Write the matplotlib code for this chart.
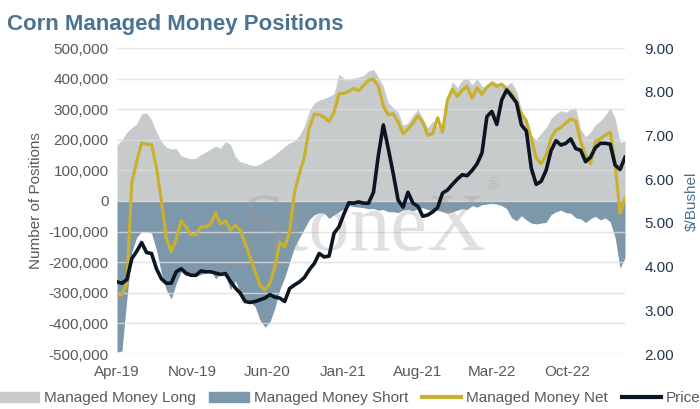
import pandas as pd
import numpy as np
import matplotlib
matplotlib.use("Agg")
import matplotlib.pyplot as plt
from matplotlib.ticker import FuncFormatter
from matplotlib.patches import Patch
from matplotlib.lines import Line2D

# DATA (bi-weekly COT readings, thousands of contracts; price in $/bu)
dates = pd.date_range("2019-04-01", periods=104, freq="14D")

mm_long = [183, 200, 225, 240, 252, 285, 288, 265, 225, 195,
           176, 170, 172, 148, 142, 138, 140, 152, 160, 170,
           180, 172, 195, 185, 145, 128, 124, 118, 115, 120,
           132, 140, 152, 165, 178, 190, 197, 215, 245, 295,
           320, 330, 335, 342, 350, 415, 400, 395, 402, 405,
           410, 425, 430, 405, 375, 320, 305, 290, 248, 255,
           280, 300, 270, 240, 260, 245, 250, 340, 390, 370,
           395, 402, 380, 400, 375, 370, 395, 385, 382, 378,
           388, 360, 300, 258, 215, 200, 222, 240, 270, 285,
           295, 290, 300, 305, 235, 210, 225, 250, 262, 280,
           305, 270, 192, 195]

mm_short = [-494, -490, -320, -167, -118, -100, -100, -105, -160, -235,
            -290, -320, -270, -230, -245, -240, -245, -240, -235, -225,
            -255, -235, -245, -290, -260, -300, -320, -330, -345, -390,
            -412, -395, -350, -290, -250, -200, -150, -120, -90, -60,
            -45, -38, -40, -57, -45, -35, -25, -15, -18, -20,
            -22, -25, -25, -30, -28, -35, -35, -38, -30, -28,
            -32, -25, -22, -28, -32, -30, -35, -40, -35, -30,
            -25, -28, -15, -20, -12, -10, -8, -10, -15, -25,
            -55, -65, -48, -62, -72, -75, -72, -70, -45, -35,
            -30, -38, -40, -55, -58, -70, -58, -50, -62, -55,
            -68, -120, -220, -185]

mm_net = [-309, -305, -270, 60, 130, 190, 185, 185, 110, 0,
          -120, -165, -125, -65, -85, -110, -110, -85, -85, -75,
          -40, -75, -65, -95, -80, -95, -140, -185, -230, -275,
          -290, -270, -215, -135, -150, -100, 30, 90, 145, 240,
          284, 282, 274, 260, 290, 350, 352, 358, 368, 360,
          378, 395, 398, 375, 310, 282, 285, 258, 220, 235,
          255, 278, 258, 215, 220, 272, 225, 330, 365, 342,
          362, 375, 336, 370, 348, 372, 385, 375, 382, 366,
          352, 320, 285, 262, 205, 140, 122, 150, 205, 232,
          240, 255, 268, 262, 195, 150, 122, 195, 203, 215,
          225, 120, -40, 10]

price = [3.65, 3.62, 3.70, 4.18, 4.35, 4.55, 4.32, 4.30, 3.95, 3.72,
         3.62, 3.62, 3.88, 3.95, 3.85, 3.80, 3.80, 3.90, 3.88, 3.88,
         3.85, 3.82, 3.84, 3.66, 3.51, 3.39, 3.20, 3.18, 3.20, 3.24,
         3.28, 3.36, 3.30, 3.28, 3.20, 3.50, 3.58, 3.65, 3.75, 3.93,
         4.07, 4.30, 4.22, 4.24, 4.76, 4.91, 5.20, 5.46, 5.45, 5.48,
         5.45, 5.45, 5.70, 6.55, 7.24, 6.70, 6.13, 5.52, 5.36, 5.70,
         5.45, 5.38, 5.15, 5.18, 5.25, 5.35, 5.68, 5.75, 5.88, 6.00,
         6.10, 6.08, 6.20, 6.35, 6.60, 7.43, 7.55, 7.25, 7.81, 8.04,
         7.90, 7.75, 7.24, 7.10, 6.25, 5.88, 5.95, 6.20, 6.65, 6.88,
         6.78, 6.82, 6.92, 6.70, 6.66, 6.40, 6.50, 6.72, 6.82, 6.82,
         6.80, 6.32, 6.22, 6.50]

tick_dates = pd.to_datetime(["2019-04-01", "2019-11-01", "2020-06-01", "2021-01-01",
                             "2021-08-01", "2022-03-01", "2022-10-01"])
tick_labels = ["Apr-19", "Nov-19", "Jun-20", "Jan-21", "Aug-21", "Mar-22", "Oct-22"]

# COLOURS
c_long = "#c8cbcc"
c_short = "#7d98aa"
c_net = "#c9b12e"
c_price = "#0c1522"
c_title = "#4b7290"
c_text = "#595959"

plt.rcParams["font.family"] = ["Liberation Sans", "DejaVu Sans"]

fig = plt.figure(figsize=(7, 4.09), dpi=100)
ax = fig.add_axes([117 / 700, 1 - 354 / 409, 508 / 700, 306 / 409])
ax2 = ax.twinx()

long_k = np.array(mm_long) * 1000
short_k = np.array(mm_short) * 1000
net_k = np.array(mm_net) * 1000

ax.fill_between(dates, 0, long_k, color=c_long, lw=0, zorder=1)
ax.fill_between(dates, 0, short_k, color=c_short, lw=0, zorder=1)
ax.plot(dates, net_k, color=c_net, lw=2.3, zorder=4)

ax.set_ylim(-500000, 500000)
ax.set_yticks(np.arange(-500000, 500001, 100000))
ax.yaxis.set_major_formatter(FuncFormatter(lambda v, p: f"{v:,.0f}"))
ax.grid(axis="y", color="#dcdcdc", lw=1, alpha=0.8, zorder=2)
ax.set_axisbelow(False)
ax.set_xlim(dates[0], dates[-1])
ax.set_xticks(tick_dates)
ax.set_xticklabels(tick_labels)
ax.tick_params(axis="both", length=0, labelsize=11, labelcolor=c_text, pad=6)
ax.tick_params(axis="x", pad=8)
ax.set_ylabel("Number of Positions", fontsize=11, color=c_text, labelpad=4)

# watermark
ax.text(0.485, 0.405, "StoneX", transform=ax.transAxes, ha="center", va="center",
        fontsize=59, family="Liberation Serif", color="#9a9a9a", alpha=0.3, zorder=3)
ax.text(0.74, 0.55, "\u00ae", transform=ax.transAxes, ha="center", va="center",
        fontsize=12, color="#9a9a9a", alpha=0.35, zorder=3)

ax2.plot(dates, price, color=c_price, lw=2.6, zorder=5)
ax2.set_ylim(2, 9)
ax2.set_yticks(np.arange(2, 9.01, 1))
ax2.yaxis.set_major_formatter(FuncFormatter(lambda v, p: f"{v:.2f}"))
ax2.tick_params(axis="y", length=0, labelsize=11, labelcolor="#1f3550", pad=14)
ax2.set_ylabel("$/Bushel", fontsize=11, color=c_title, labelpad=8)

for a in (ax, ax2):
    for s in a.spines.values():
        s.set_visible(False)

fig.text(0.01, 0.94, "Corn Managed Money Positions", fontsize=16, fontweight="bold",
         color=c_title, ha="left", va="center")

handles = [Patch(color=c_long), Patch(color=c_short),
           Line2D([], [], color=c_net, lw=3), Line2D([], [], color=c_price, lw=3)]
labels = ["Managed Money Long", "Managed Money Short", "Managed Money Net", "Price"]
fig.legend(handles, labels, loc="lower center", bbox_to_anchor=(0.5, -0.025), ncol=4,
           frameon=False, fontsize=11, labelcolor=c_text, handlelength=2.6,
           handletextpad=0.3, columnspacing=0.9, handleheight=0.6)

fig.savefig("out.png", dpi=100)
